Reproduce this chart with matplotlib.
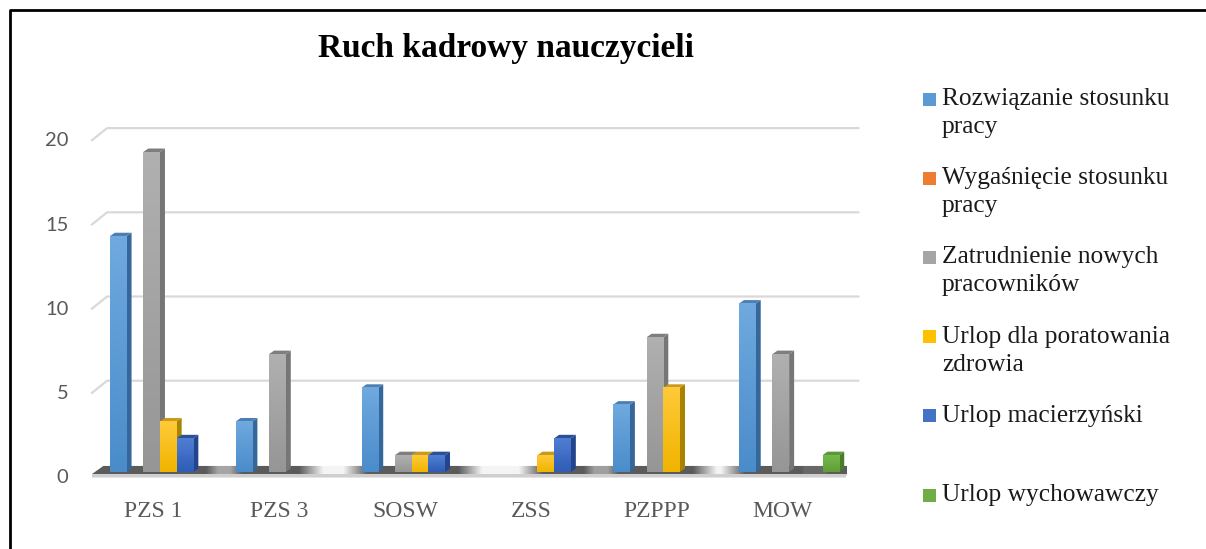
import matplotlib
matplotlib.use('Agg')
import matplotlib.pyplot as plt
import numpy as np
from matplotlib.patches import Polygon, Rectangle
from matplotlib.colors import LinearSegmentedColormap
from matplotlib.lines import Line2D

plt.rcParams['font.family'] = ['Liberation Serif', 'DejaVu Serif']

categories = ['PZS 1', 'PZS 3', 'SOSW', 'ZSS', 'PZPPP', 'MOW']
rozwiazanie = [14, 3, 5, 0, 4, 10]
wygasniecie = [0, 0, 0, 0, 0, 0]
zatrudnienie = [19, 7, 1, 0, 8, 7]
urlop_zdrowie = [3, 0, 1, 1, 5, 0]
urlop_macierzynski = [2, 0, 1, 2, 0, 0]
urlop_wychowawczy = [0, 0, 0, 0, 0, 1]

labels = ['Rozwiązanie stosunku\npracy', 'Wygaśnięcie stosunku\npracy',
          'Zatrudnienie nowych\npracowników', 'Urlop dla poratowania\nzdrowia',
          'Urlop macierzyński', 'Urlop wychowawczy']
values = [rozwiazanie, wygasniecie, zatrudnienie, urlop_zdrowie,
          urlop_macierzynski, urlop_wychowawczy]
y_ticks = [0, 5, 10, 15, 20]

# legend colour, front top, front bottom, side, top
palette = [
    ('#5b9bd5', '#6fa9df', '#4a8cca', '#35679a', '#4d7fb3'),
    ('#ed7d31', '#f28e4c', '#e06f22', '#a9561d', '#c0662a'),
    ('#a5a5a5', '#b0b0b0', '#969696', '#767676', '#7e7e7e'),
    ('#ffc000', '#ffca3a', '#f0b400', '#a98200', '#c99a1c'),
    ('#4472c4', '#4f7fd3', '#2f5cb6', '#23458c', '#2c4f96'),
    ('#70ad47', '#77b84c', '#5e9e35', '#4a7d2a', '#5c9637'),
]

W = 1206
H = 549
fig = plt.figure(figsize=(W / 100, H / 100), dpi=100)
ax = fig.add_axes([92 / W, (H - 482) / H, 755 / W, 364 / H])

bw = 0.1327          # bar width in category units
ddx = 5 / 125.8      # depth offset (x)
ddy = 3.5 / 16.84    # depth offset (y)

# back wall gridlines with a slanted left part
for v in y_ticks[1:]:
    ax.add_line(Line2D([-0.54, -0.42, 5.55], [v - 0.3, v + 0.42, v + 0.42],
                       color='#d9d9d9', lw=1.6, zorder=0.5, clip_on=False))

# floor: shadow of the bars is dark, empty floor shows a light sheen
xs = np.linspace(-0.54, 5.55, 800)
shadow = np.zeros_like(xs)
shadow[xs < -0.4] = 1
for i in range(len(categories)):
    for j, vals in enumerate(values):
        if vals[i] == 0:
            continue
        x0 = i - 3 * bw + j * bw
        shadow[(xs > x0 - 0.05) & (xs < x0 + bw + 0.2)] = 1
shadow[xs > 5.3] = 1
kernel = np.ones(25) / 25
shadow = np.convolve(np.pad(shadow, 12, mode='edge'), kernel, mode='valid')
dark = np.array([0.36, 0.36, 0.36])
light = np.array([0.96, 0.96, 0.96])
floor_img = light + shadow[:, None] * (dark - light)
floor_img = np.tile(floor_img[None, :, :], (4, 1, 1))
top_poly = Polygon([(-0.54, -0.12), (5.46, -0.12), (5.55, 0.36), (-0.45, 0.36)],
                   closed=True, facecolor='none', edgecolor='none')
ax.add_patch(top_poly)
im = ax.imshow(floor_img, extent=[-0.54, 5.55, -0.12, 0.36], aspect='auto',
               zorder=1, interpolation='bilinear')
im.set_clip_path(top_poly)
ax.add_patch(Polygon([(-0.54, -0.12), (5.46, -0.12), (5.45, -0.33), (-0.54, -0.33)],
                     closed=True, facecolor='#cfcfcf', edgecolor='none', zorder=1,
                     clip_on=False))

grad = np.linspace(0, 1, 64).reshape(-1, 1)
z = 2
for i in range(len(categories)):
    for j, vals in enumerate(values):
        v = vals[i]
        if v == 0:
            continue
        x0 = i - 3 * bw + j * bw
        c = palette[j]
        cmap = LinearSegmentedColormap.from_list('g%d' % j, [c[2], c[1]])
        ax.imshow(grad, extent=[x0, x0 + bw, 0, v], aspect='auto', origin='lower',
                  cmap=cmap, zorder=z + 0.1, interpolation='bilinear')
        ax.add_patch(Polygon([(x0 + bw, 0), (x0 + bw + ddx, ddy), (x0 + bw + ddx, v + ddy),
                              (x0 + bw, v)], closed=True, facecolor=c[3],
                             edgecolor='none', zorder=z))
        ax.add_patch(Polygon([(x0, v), (x0 + ddx, v + ddy), (x0 + bw + ddx, v + ddy),
                              (x0 + bw, v)], closed=True, facecolor=c[4],
                             edgecolor='none', zorder=z))
        z += 1

ax.set_xlim(-0.54, 5.46)
ax.set_ylim(-0.594, 21.02)
ax.set_xticks([i - 0.05 for i in range(len(categories))])
ax.set_xticklabels(categories, fontsize=17, color='#595959')
ax.set_yticks([v - 0.25 for v in y_ticks])
ax.set_yticklabels([str(v) for v in y_ticks], fontsize=14.5, color='#595959',
                   family=['Lato', 'DejaVu Sans'])
ax.tick_params(axis='x', length=0, pad=14)
ax.tick_params(axis='y', length=0, pad=17)
for s in ax.spines.values():
    s.set_visible(False)
ax.patch.set_visible(False)

fig.text(506 / W, 1 - 48 / H, 'Ruch kadrowy nauczycieli', ha='center', va='center',
         fontsize=24, fontweight='bold', color='black')

# legend
for k, lab in enumerate(labels):
    yc = 99 + 79.2 * k
    fig.patches.append(Rectangle((923 / W, 1 - (yc + 6.5) / H), 13 / W, 13 / H,
                                 transform=fig.transFigure, facecolor=palette[k][0],
                                 edgecolor='none'))
    for n, line in enumerate(lab.split('\n')):
        fig.text(942 / W, 1 - (yc + 28 * n) / H, line, ha='left', va='center',
                 fontsize=18.3, color='#1a1a1a')

# chart frame
fig.add_artist(Line2D([10 / W, 10 / W, 1.0], [0.0, 1 - 10 / H, 1 - 10 / H],
                      transform=fig.transFigure, color='black', lw=2))

plt.savefig('out.png', dpi=100)
